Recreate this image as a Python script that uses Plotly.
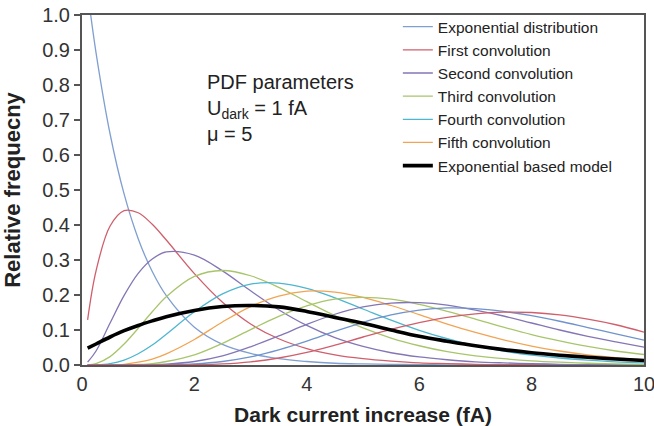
import plotly.graph_objects as go

x = [0.1, 0.25, 0.5, 0.75, 1.0, 1.25, 1.5, 2.0, 2.5, 3.0, 3.5, 4.0, 4.5, 5.0,
     5.5, 6.0, 6.5, 7.0, 7.5, 8.0, 8.5, 9.0, 9.5, 10.0]

exp_dist = [1.068, 0.892, 0.660, 0.488, 0.361, 0.267, 0.198, 0.108, 0.059, 0.033,
            0.018, 0.010, 0.005, 0.003, 0.002, 0.001, 0.0005, 0.0003, 0.0001, 0.0001,
            0.0, 0.0, 0.0, 0.0]
conv1 = [0.129, 0.269, 0.397, 0.441, 0.435, 0.402, 0.357, 0.261, 0.179, 0.117,
         0.075, 0.047, 0.029, 0.018, 0.011, 0.006, 0.004, 0.002, 0.001, 0.001,
         0.0004, 0.0003, 0.0002, 0.0001]
conv2 = [0.008, 0.040, 0.120, 0.199, 0.262, 0.303, 0.323, 0.314, 0.269, 0.212,
         0.158, 0.113, 0.078, 0.053, 0.035, 0.023, 0.015, 0.009, 0.006, 0.004,
         0.002, 0.001, 0.001, 0.0005]
conv3 = [0.0003, 0.004, 0.024, 0.060, 0.105, 0.152, 0.195, 0.253, 0.270, 0.255,
         0.222, 0.181, 0.141, 0.106, 0.077, 0.055, 0.038, 0.026, 0.018, 0.012,
         0.008, 0.005, 0.003, 0.002]
conv4 = [0.0, 0.0003, 0.004, 0.014, 0.032, 0.057, 0.088, 0.152, 0.203, 0.231,
         0.234, 0.219, 0.192, 0.160, 0.128, 0.099, 0.075, 0.055, 0.040, 0.028,
         0.020, 0.014, 0.009, 0.006]
conv5 = [0.0, 0.0, 0.0004, 0.002, 0.008, 0.017, 0.032, 0.073, 0.123, 0.167,
         0.197, 0.211, 0.208, 0.193, 0.170, 0.144, 0.117, 0.093, 0.072, 0.054,
         0.040, 0.029, 0.021, 0.015]
conv6 = [0.0, 0.0, 0.0, 0.0004, 0.0015, 0.004, 0.010, 0.029, 0.062, 0.101,
         0.139, 0.169, 0.188, 0.193, 0.188, 0.173, 0.153, 0.131, 0.108, 0.087,
         0.069, 0.053, 0.040, 0.030]
conv7 = [0.0, 0.0, 0.0, 0.0, 0.0003, 0.001, 0.0025, 0.010, 0.026, 0.052,
         0.083, 0.116, 0.145, 0.166, 0.177, 0.178, 0.171, 0.157, 0.140, 0.120,
         0.100, 0.082, 0.066, 0.051]
conv8 = [0.0, 0.0, 0.0, 0.0, 0.0, 0.0002, 0.0006, 0.003, 0.010, 0.023,
         0.043, 0.068, 0.096, 0.122, 0.143, 0.157, 0.163, 0.161, 0.153, 0.141,
         0.125, 0.107, 0.089, 0.071]
conv9 = [0.0, 0.0, 0.0, 0.0, 0.0, 0.0, 0.0001, 0.0008, 0.003, 0.009,
         0.020, 0.036, 0.057, 0.080, 0.102, 0.121, 0.136, 0.146, 0.151, 0.150,
         0.143, 0.131, 0.115, 0.094]
model = [0.048, 0.060, 0.080, 0.098, 0.113, 0.126, 0.138, 0.156, 0.167, 0.170,
         0.166, 0.153, 0.136, 0.119, 0.100, 0.082, 0.068, 0.055, 0.044, 0.035,
         0.028, 0.022, 0.017, 0.013]

legend_names = ["Exponential distribution", "First convolution", "Second convolution",
                "Third convolution", "Fourth convolution", "Fifth convolution"]
series = [exp_dist, conv1, conv2, conv3, conv4, conv5, conv6, conv7, conv8, conv9]
colors = ["#7f9fd0", "#cf5f6c", "#8476b5", "#a8c56b", "#4eb6cf", "#f1a453",
          "#a8c56b", "#8476b5", "#6f93cc", "#cf5f6c"]

x_ticks = [0, 2, 4, 6, 8, 10]
y_ticks = [0.0, 0.1, 0.2, 0.3, 0.4, 0.5, 0.6, 0.7, 0.8, 0.9, 1.0]

fig = go.Figure()
for i, ys in enumerate(series):
    fig.add_trace(go.Scatter(
        x=x, y=ys, mode="lines",
        line=dict(color=colors[i], width=1.3, shape="spline", smoothing=1.0),
        name=legend_names[i] if i < len(legend_names) else "",
        showlegend=i < len(legend_names),
    ))
fig.add_trace(go.Scatter(
    x=x, y=model, mode="lines", name="Exponential based model",
    line=dict(color="black", width=3.6, shape="spline", smoothing=1.0),
))

font_family = "Liberation Sans, Arial, sans-serif"
fig.update_layout(
    width=654, height=426,
    margin=dict(l=82, r=10, t=13, b=61),
    paper_bgcolor="white", plot_bgcolor="white",
    font=dict(family=font_family, size=20, color="#333"),
    legend=dict(x=0.562, y=1.014, xanchor="left", yanchor="top",
                bgcolor="rgba(0,0,0,0)", font=dict(size=15.5, color="#222"),
                itemwidth=30, tracegroupgap=0),
    annotations=[dict(
        x=2.18, y=0.845, xref="x", yref="y", xanchor="left", yanchor="top",
        align="left", showarrow=False,
        text="PDF parameters<br>U<sub>dark</sub> = 1 fA<br>μ = 5",
        font=dict(size=20, color="#222"),
    )],
)
fig.update_xaxes(
    range=[0, 10], tickvals=x_ticks, ticks="", showgrid=False, zeroline=False,
    showline=True, linecolor="#555", linewidth=2, mirror=True, automargin=False,
    ticklabeloverflow="allow",
    title=dict(text="<b>Dark current increase (fA)</b>", font=dict(size=21, color="#222"),
               standoff=14),
    tickfont=dict(size=20),
)
fig.update_yaxes(
    range=[0, 1.0], tickvals=y_ticks, tickformat=".1f", ticks="outside", ticklen=6,
    tickcolor="#555", tickwidth=2, showgrid=False, zeroline=False,
    showline=True, linecolor="#555", linewidth=2, mirror=True, automargin=False,
    ticklabeloverflow="allow",
    title=dict(text="<b>Relative frequecny</b>", font=dict(size=22, color="#222"),
               standoff=18),
    tickfont=dict(size=20),
)

fig.write_html("out.html")
